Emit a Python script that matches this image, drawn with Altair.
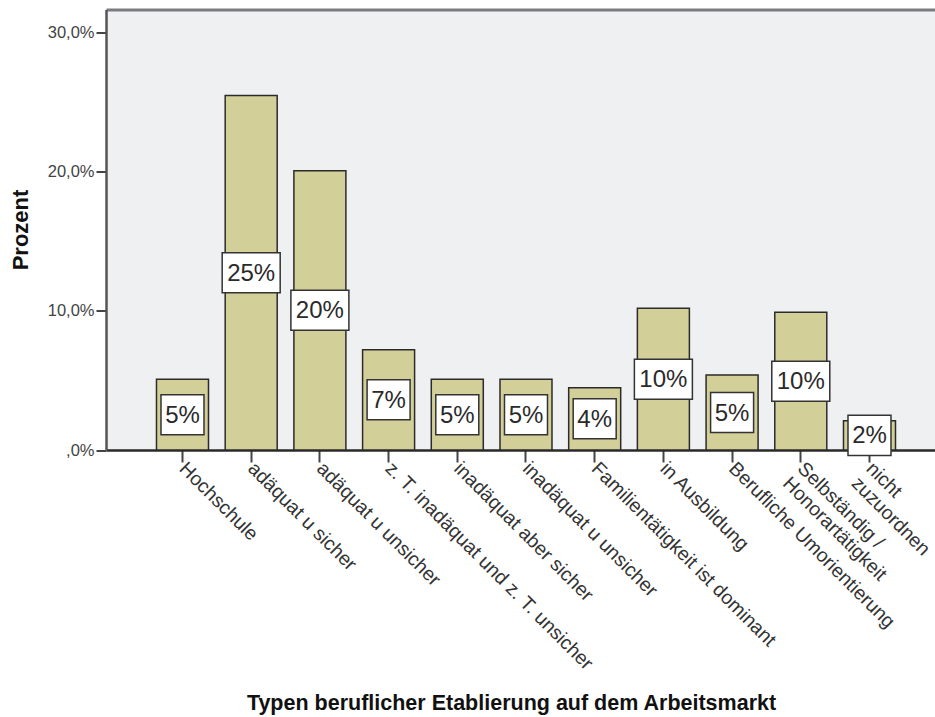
import altair as alt
import pandas as pd

categories = [
    "Hochschule",
    "adäquat u sicher",
    "adäquat u unsicher",
    "z. T. inadäquat und z. T. unsicher",
    "inadäquat aber sicher",
    "inadäquat u unsicher",
    "Familientätigkeit ist dominant",
    "in Ausbildung",
    "Berufliche Umorientierung",
    "Selbständig /|Honorartätigkeit",
    "nicht|zuzuordnen",
]
values = [5.07, 25.45, 20.05, 7.2, 5.07, 5.07, 4.47, 10.17, 5.38, 9.88, 2.1]
labels = ["5%", "25%", "20%", "7%", "5%", "5%", "4%", "10%", "5%", "10%", "2%"]

df = pd.DataFrame({"cat": categories, "value": values, "label": labels})

FONT = "Liberation Sans"
BOX_HALF = 1.436  # half the label box height, in percent units

xscale = alt.Scale(paddingInner=0.243, paddingOuter=0.655, align=0.561)
yscale = alt.Scale(domain=[0, 31.62], nice=False, zero=True)

x_bottom = alt.X(
    "cat:N",
    sort=categories,
    scale=xscale,
    title="Typen beruflicher Etablierung auf dem Arbeitsmarkt",
    axis=alt.Axis(
        orient="bottom",
        zindex=0,
        labelAngle=45,
        labelAlign="left",
        labelBaseline="middle",
        labelExpr="split(datum.label, '|')",
        labelFont=FONT,
        labelFontSize=19.5,
        labelColor="#333333",
        labelLineHeight=21,
        labelPadding=3,
        labelLimit=0,
        tickSize=12,
        tickWidth=2,
        tickColor="#444444",
        domainColor="#2a2a2a",
        domainWidth=2.5,
        titleFont=FONT,
        titleFontSize=21.5,
        titleFontWeight="bold",
        titleColor="#111111",
        titleX=405,
        titleY=253,
        titleAnchor="middle",
        titleAlign="center",
        titleBaseline="middle",
    ),
)

y_axis = alt.Axis(
    orient="left",
    values=[0, 10, 20, 30],
    labelExpr="datum.value == 0 ? ',0%' : replace(format(datum.value, '.1f'), '.', ',') + '%'",
    labelFont=FONT,
    labelFontSize=16.5,
    labelColor="#444444",
    labelPadding=2,
    tickSize=10,
    tickWidth=2,
    tickColor="#444444",
    domainColor="#555555",
    domainWidth=2.5,
    grid=False,
    title="Prozent",
    titleFont=FONT,
    titleFontSize=22,
    titleFontWeight="bold",
    titleColor="#111111",
    titleAngle=-90,
    titleX=-86,
    titleY=220,
    titleAlign="center",
    titleBaseline="middle",
)

base = alt.Chart(df)

bars = base.mark_bar(
    color="#D3CF98", stroke="#2b2b2b", strokeWidth=1.5
).encode(
    x=x_bottom,
    y=alt.Y("value:Q", scale=yscale, axis=y_axis),
)

box_calc = base.transform_calculate(
    mid="datum.value / 2",
    lo=f"datum.value / 2 - {BOX_HALF}",
    hi=f"datum.value / 2 + {BOX_HALF}",
)

x_noaxis = alt.X("cat:N", sort=categories, scale=xscale, axis=None)

box_small = box_calc.transform_filter("length(datum.label) == 2").mark_bar(
    width=43, color="white", stroke="#333333", strokeWidth=1.5
).encode(x=x_noaxis, y=alt.Y("lo:Q", scale=yscale), y2="hi:Q")

box_large = box_calc.transform_filter("length(datum.label) == 3").mark_bar(
    width=58, color="white", stroke="#333333", strokeWidth=1.5
).encode(x=x_noaxis, y=alt.Y("lo:Q", scale=yscale), y2="hi:Q")

text = box_calc.mark_text(
    font=FONT, fontSize=24, color="#2a2a2a", baseline="middle", align="center", dy=1
).encode(
    x=alt.X(
        "cat:N",
        sort=categories,
        scale=xscale,
        axis=alt.Axis(
            orient="top", labels=False, ticks=False, title=None,
            domainColor="#7a7c80", domainWidth=3,
        ),
    ),
    y=alt.Y("mid:Q", scale=yscale),
    text="label:N",
)

chart = (
    alt.layer(bars, box_small, box_large, text)
    .resolve_axis(x="independent")
    .properties(
        width=829,
        height=440.5,
        autosize=alt.AutoSizeParams(type="none"),
        padding={"left": 106, "top": 9.5, "right": 0, "bottom": 266},
        background="white",
    )
    .configure_view(stroke=None, fill="#EFF0F2")
)

chart.save("out.html", embed_options={"renderer": "svg", "actions": False})
